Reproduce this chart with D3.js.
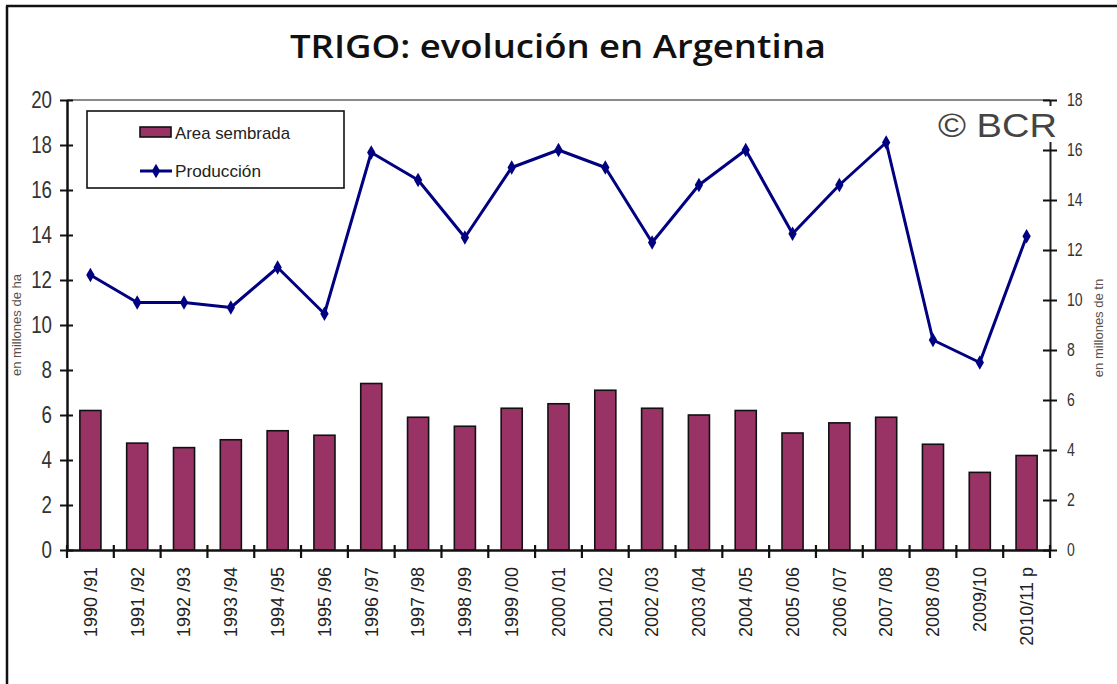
<!DOCTYPE html>
<html>
<head>
<meta charset="utf-8">
<script src="https://cdn.jsdelivr.net/npm/d3@7"></script>
<style>
  body { margin: 0; background: #fff; }
  svg { display: block; }
  .narrow { font-family: "Liberation Sans", Arial, sans-serif; }
</style>
</head>
<body>
<div id="chart"></div>
<script>
// Campañas y valores
const campanas = ["1990 /91", "1991 /92", "1992 /93", "1993 /94", "1994 /95", "1995 /96", "1996 /97",
    "1997 /98", "1998 /99", "1999 /00", "2000 /01", "2001 /02", "2002 /03", "2003 /04", "2004 /05",
    "2005 /06", "2006 /07", "2007 /08", "2008 /09", "2009/10", "2010/11 p"];
// Area sembrada, en millones de ha (eje izquierdo)
const areaSembrada = [6.2, 4.75, 4.55, 4.9, 5.3, 5.1, 7.4, 5.9, 5.5, 6.3, 6.5, 7.1, 6.3, 6.0, 6.2,
    5.2, 5.65, 5.9, 4.7, 3.45, 4.2];
// Producción, en millones de tn (eje derecho)
const produccion = [11.0, 9.9, 9.9, 9.7, 11.3, 9.45, 15.9, 14.8, 12.5, 15.3, 16.0, 15.3, 12.3, 14.6, 16.0,
    12.65, 14.6, 16.3, 8.4, 7.5, 12.55];
const ticksIzq = [0, 2, 4, 6, 8, 10, 12, 14, 16, 18, 20];
const ticksDer = [0, 2, 4, 6, 8, 10, 12, 14, 16, 18];

const W = 1117, H = 684;
const margin = { top: 100, right: 67, bottom: 134, left: 67 };
const width = W - margin.left - margin.right;
const height = H - margin.top - margin.bottom;
const angosto = 0.78; // compresión horizontal para imitar una fuente estrecha

const svg = d3.select("#chart").append("svg")
    .attr("width", W)
    .attr("height", H);

// Marco (solo arriba e izquierda, como en la captura)
svg.append("line").attr("x1", 6).attr("x2", W).attr("y1", 6).attr("y2", 6)
    .attr("stroke", "#111").attr("stroke-width", 2.5);
svg.append("line").attr("x1", 7).attr("x2", 7).attr("y1", 6).attr("y2", H)
    .attr("stroke", "#111").attr("stroke-width", 2.5);

// Título
svg.append("text")
    .attr("x", 558)
    .attr("y", 58)
    .attr("text-anchor", "middle")
    .style("font-family", "'Open Sans', sans-serif")
    .style("font-weight", 600)
    .style("font-size", "32px")
    .attr("fill", "#111")
    .attr("textLength", 536)
    .attr("lengthAdjust", "spacingAndGlyphs")
    .text("TRIGO: evolución en Argentina");

const g = svg.append("g")
    .attr("transform", `translate(${margin.left},${margin.top})`);

const x = d3.scaleBand()
    .domain(campanas)
    .range([0, width])
    .paddingInner(0.55)
    .paddingOuter(0.275);

const yIzq = d3.scaleLinear().domain([0, 20]).range([height, 0]);
const yDer = d3.scaleLinear().domain([0, 18]).range([height, 0]);

// Borde superior del área de trazado
g.append("line")
    .attr("x1", 0).attr("x2", width)
    .attr("y1", 0).attr("y2", 0)
    .attr("stroke", "#8a8a8a").attr("stroke-width", 2);

// Barras
g.selectAll("rect.barra")
    .data(campanas.map((c, i) => ({ c, v: areaSembrada[i] })))
    .enter()
    .append("rect")
        .attr("class", "barra")
        .attr("x", d => x(d.c))
        .attr("y", d => yIzq(d.v))
        .attr("width", x.bandwidth())
        .attr("height", d => height - yIzq(d.v))
        .attr("fill", "#993366")
        .attr("stroke", "#111")
        .attr("stroke-width", 1.6);

// Línea de producción
const linea = d3.line()
    .x((d, i) => x(campanas[i]) + x.bandwidth() / 2)
    .y(d => yDer(d));

g.append("path")
    .datum(produccion)
    .attr("fill", "none")
    .attr("stroke", "#000080")
    .attr("stroke-width", 3)
    .attr("stroke-linejoin", "round")
    .attr("d", linea);

const diamante = d3.symbol().type(d3.symbolDiamond).size(60);
g.selectAll("path.marca")
    .data(produccion)
    .enter()
    .append("path")
        .attr("class", "marca")
        .attr("transform", (d, i) => `translate(${x(campanas[i]) + x.bandwidth() / 2},${yDer(d)})`)
        .attr("d", diamante)
        .attr("fill", "#000080");

// Eje Y izquierdo
const ejeIzq = g.append("g")
    .attr("class", "narrow")
    .call(d3.axisLeft(yIzq).tickValues(ticksIzq).tickSize(7).tickPadding(9).tickSizeOuter(0));
ejeIzq.select(".domain").attr("stroke", "#111").attr("stroke-width", 2.5);
ejeIzq.selectAll(".tick line").attr("x1", 6).attr("stroke", "#111").attr("stroke-width", 2);
ejeIzq.selectAll(".tick text")
    .attr("x", -15 / angosto)
    .attr("transform", `scale(${angosto},1)`)
    .style("font-size", "24px")
    .attr("fill", "#333");

// Eje Y derecho
const ejeDer = g.append("g")
    .attr("class", "narrow")
    .attr("transform", `translate(${width},0)`)
    .call(d3.axisRight(yDer).tickValues(ticksDer).tickSize(7).tickPadding(10).tickSizeOuter(0));
ejeDer.select(".domain").attr("stroke", "#222").attr("stroke-width", 2);
ejeDer.selectAll(".tick line").attr("x1", -7).attr("stroke", "#111").attr("stroke-width", 2);
ejeDer.selectAll(".tick text")
    .attr("x", 17 / angosto)
    .attr("transform", `scale(${angosto},1)`)
    .style("font-size", "18px")
    .attr("fill", "#333");

// Eje X con marcas en los límites de cada categoría
const ejeX = g.append("g")
    .attr("class", "narrow")
    .attr("transform", `translate(0,${height})`)
    .call(d3.axisBottom(x).tickSize(0).tickPadding(0).tickSizeOuter(0));
ejeX.select(".domain").attr("stroke", "#111").attr("stroke-width", 2.5);
ejeX.selectAll(".tick text")
    .attr("transform", "rotate(-90)")
    .attr("x", -17)
    .attr("y", 0)
    .attr("dy", "0.35em")
    .style("text-anchor", "end")
    .style("font-size", "18px")
    .attr("fill", "#222");

const limites = campanas.map(c => x(c) - x.step() * x.paddingInner() / 2).concat([width]);
ejeX.selectAll("line.limite")
    .data(limites)
    .enter()
    .append("line")
        .attr("class", "limite")
        .attr("x1", d => d).attr("x2", d => d)
        .attr("y1", -5).attr("y2", 8)
        .attr("stroke", "#111")
        .attr("stroke-width", 2.2);

// Títulos de ejes
svg.append("text")
    .attr("transform", `translate(21,325) rotate(-90)`)
    .attr("text-anchor", "middle")
    .attr("class", "narrow")
    .style("font-size", "13px")
    .attr("fill", "#5a4f48")
    .text("en millones de ha");

svg.append("text")
    .attr("transform", `translate(1103,328) rotate(-90)`)
    .attr("text-anchor", "middle")
    .attr("class", "narrow")
    .style("font-size", "13px")
    .attr("fill", "#5a4f48")
    .text("en millones de tn");

// Leyenda
const leyenda = svg.append("g");
leyenda.append("rect")
    .attr("x", 87).attr("y", 111)
    .attr("width", 257).attr("height", 77)
    .attr("fill", "#fff")
    .attr("stroke", "#111")
    .attr("stroke-width", 1.6);
leyenda.append("rect")
    .attr("x", 140).attr("y", 127)
    .attr("width", 31).attr("height", 10)
    .attr("fill", "#993366")
    .attr("stroke", "#111")
    .attr("stroke-width", 1.6);
leyenda.append("text")
    .attr("x", 175).attr("y", 139)
    .attr("class", "narrow")
    .style("font-size", "17px")
    .attr("fill", "#222")
    .attr("textLength", 115)
    .attr("lengthAdjust", "spacingAndGlyphs")
    .text("Area sembrada");
leyenda.append("line")
    .attr("x1", 140).attr("x2", 172)
    .attr("y1", 171).attr("y2", 171)
    .attr("stroke", "#000080").attr("stroke-width", 3);
leyenda.append("path")
    .attr("transform", "translate(156,171)")
    .attr("d", diamante)
    .attr("fill", "#000080");
leyenda.append("text")
    .attr("x", 175).attr("y", 177)
    .attr("class", "narrow")
    .style("font-size", "17px")
    .attr("fill", "#222")
    .attr("textLength", 86)
    .attr("lengthAdjust", "spacingAndGlyphs")
    .text("Producción");

// Marca de agua
svg.append("rect")
    .attr("x", 936).attr("y", 106)
    .attr("width", 124).attr("height", 36)
    .attr("fill", "#fff");
svg.append("text")
    .attr("x", 938).attr("y", 137)
    .style("font-family", "'Liberation Sans', Arial, sans-serif")
    .style("font-size", "34px")
    .attr("fill", "#444")
    .attr("textLength", 119)
    .attr("lengthAdjust", "spacingAndGlyphs")
    .text("© BCR");
</script>
</body>
</html>
